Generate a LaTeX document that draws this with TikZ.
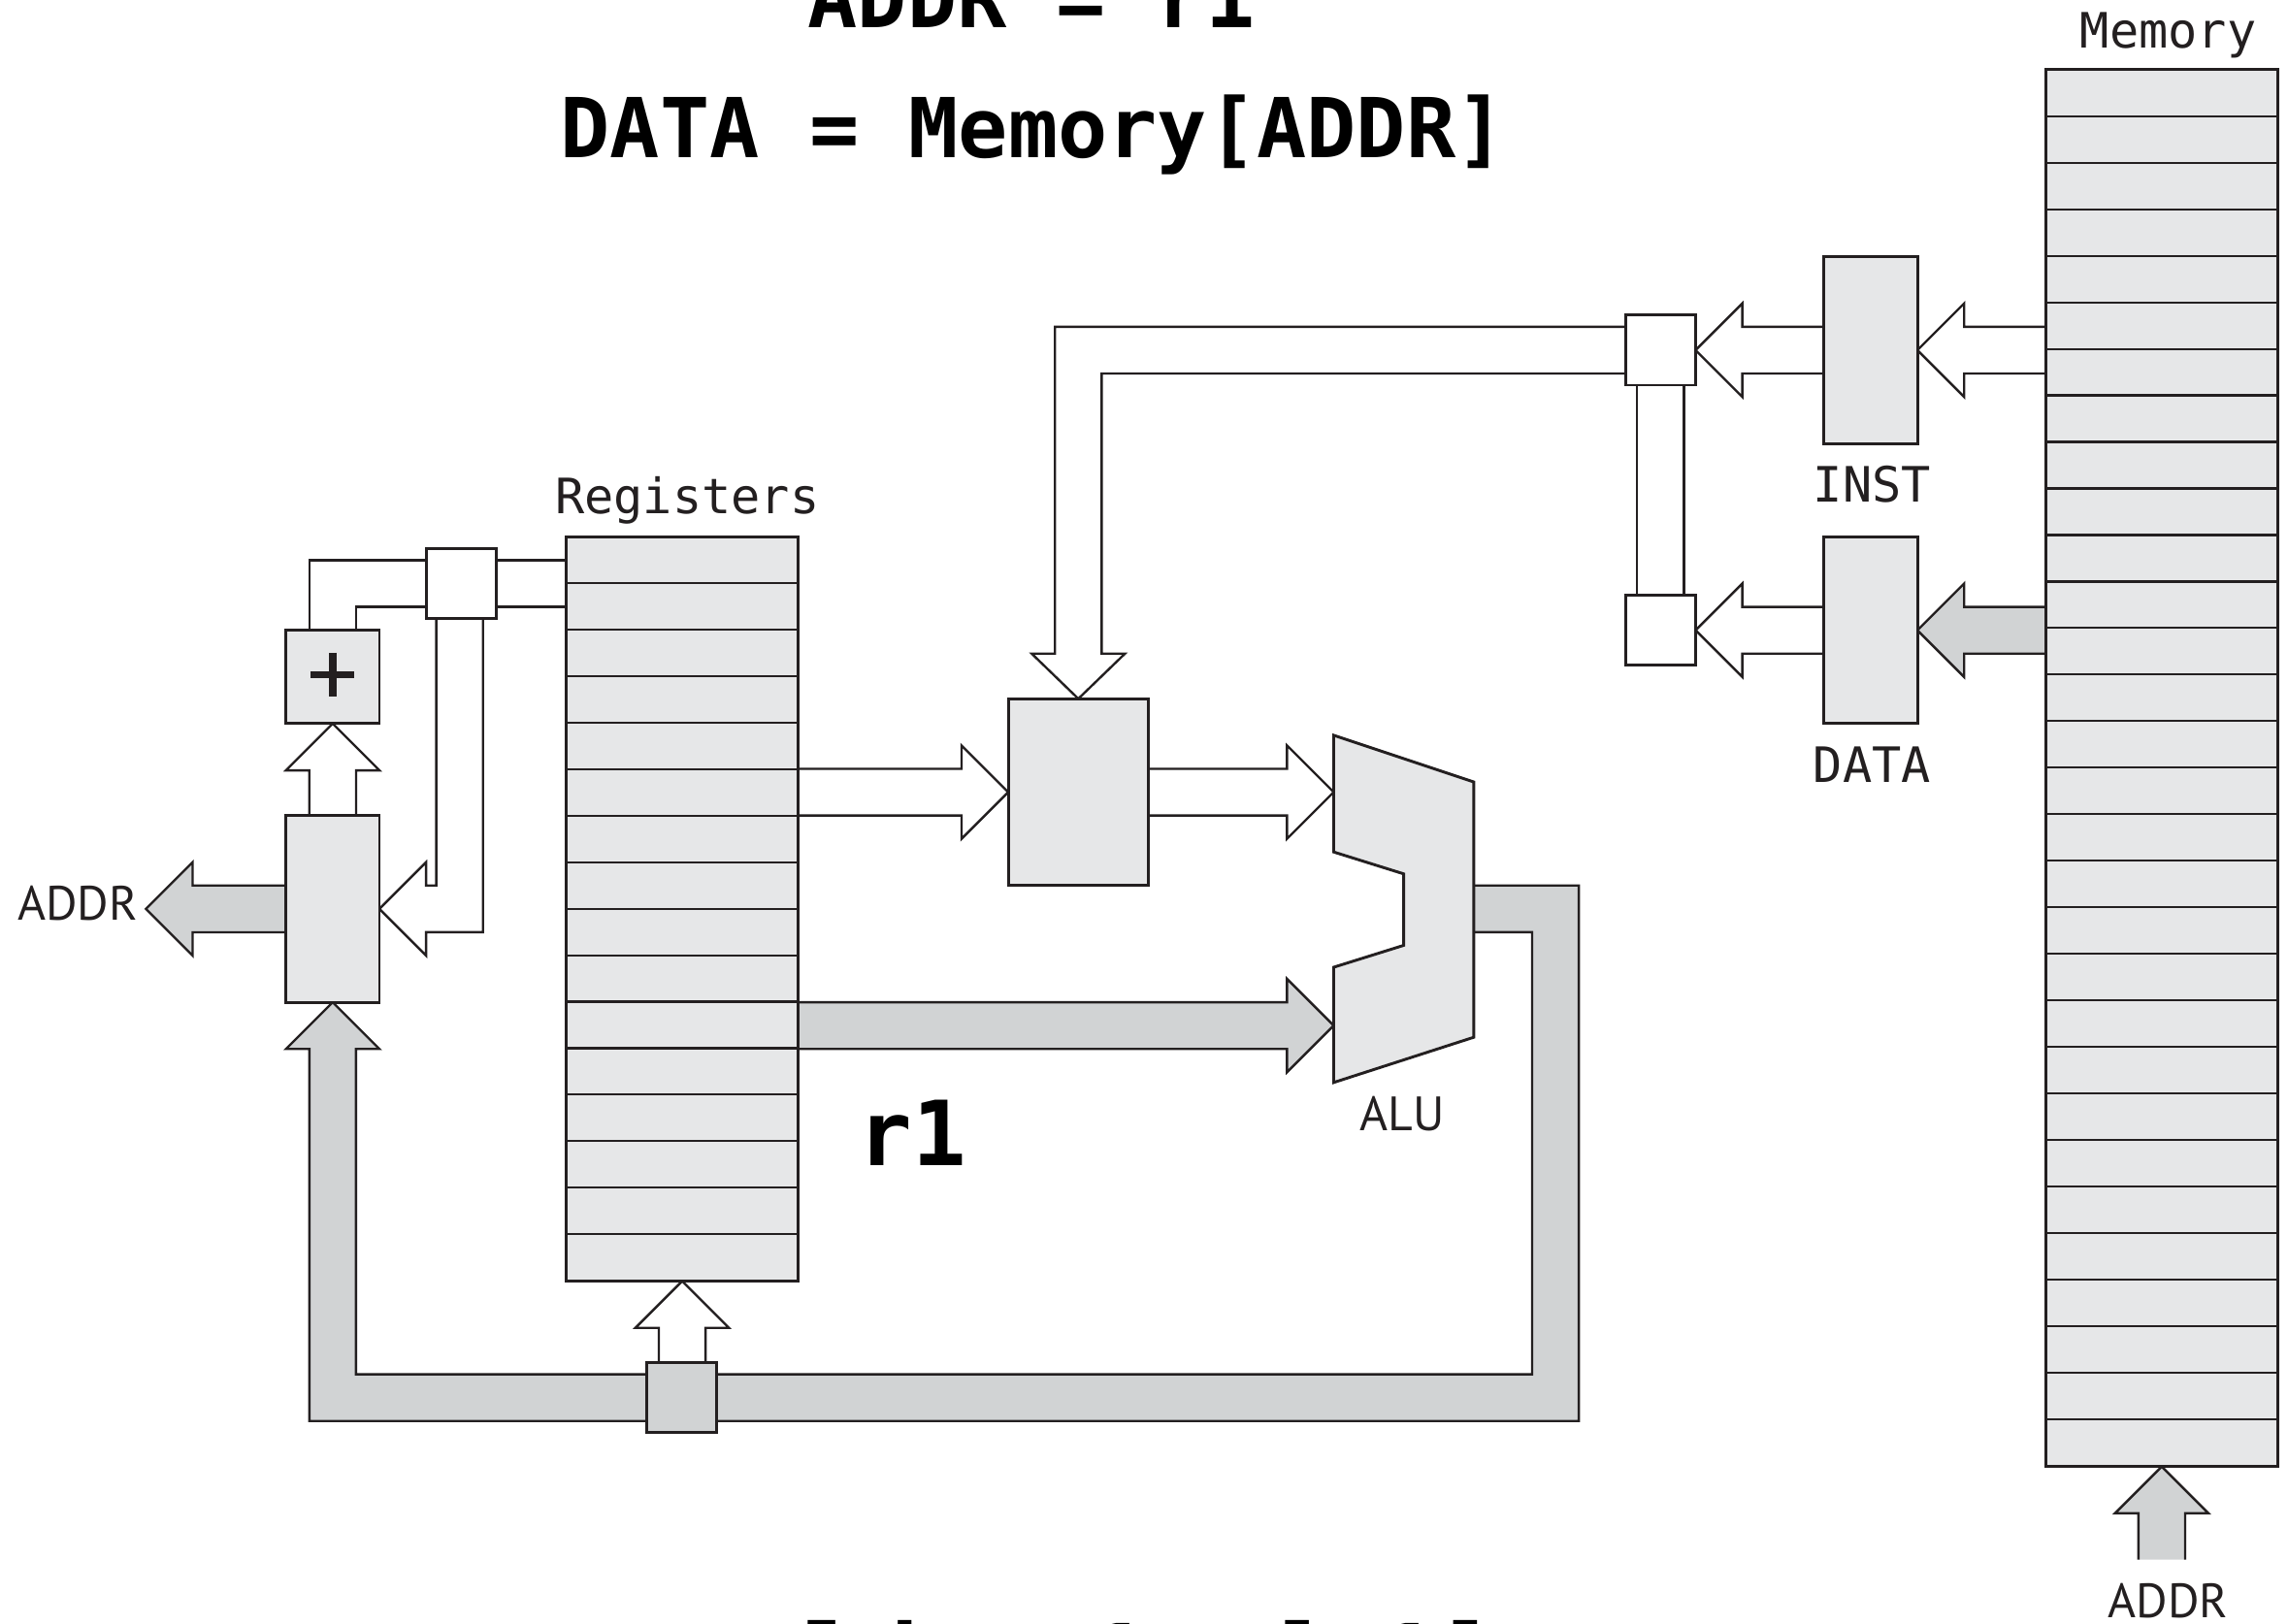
\documentclass[tikz,border=0pt]{standalone}
\usepackage{fontspec}
\setmainfont{PT Sans}
\newfontfamily\monofont{DejaVu Sans Mono}
\usetikzlibrary{calc}
\pgfdeclarelayer{paper}
\pgfdeclarelayer{behind}
\pgfsetlayers{paper,behind,main}
\definecolor{boxfill}{HTML}{E6E7E8}
\definecolor{busfill}{HTML}{D1D3D4}
\definecolor{ink}{HTML}{231F20}
\def\sw{0.16cm}\def\hw{0.32cm}\def\hl{0.32cm}
\newcommand\harr[3]{\draw[blk,fill=#1] let \p1=#2, \p2=#3, \n1={ifthenelse(\x2>\x1,1,-1)} in
  (\x1,\y2+\sw) -- ({\x2-(\n1)*\hl},\y2+\sw) -- ({\x2-(\n1)*\hl},\y2+\hw) -- (\x2,\y2)
  -- ({\x2-(\n1)*\hl},\y2-\hw) -- ({\x2-(\n1)*\hl},\y2-\sw) -- (\x1,\y2-\sw);}
\newcommand\varr[3]{\draw[blk,fill=#1] let \p1=#2, \p2=#3, \n1={ifthenelse(\y2>\y1,1,-1)} in
  (\x2+\sw,\y1) -- (\x2+\sw,{\y2-(\n1)*\hl}) -- (\x2+\hw,{\y2-(\n1)*\hl}) -- (\x2,\y2)
  -- (\x2-\hw,{\y2-(\n1)*\hl}) -- (\x2-\sw,{\y2-(\n1)*\hl}) -- (\x2-\sw,\y1);}
\begin{document}
\begin{tikzpicture}[x=0.01cm,y=-0.01cm,
  gbox/.style={draw=ink,line width=0.55pt,fill=boxfill,inner sep=0pt,outer sep=0pt},
  wbox/.style={gbox,fill=white},
  rowline/.style={draw=ink,line width=0.4pt},
  blk/.style={draw=ink,line width=0.45pt,line join=miter},
  wire/.style={draw=ink,line width=0.45pt},
  monolabel/.style={font=\monofont\fontsize{9.5}{11}\selectfont,inner sep=0pt,text=ink},
  sanslabel/.style={font=\fontsize{9.4}{11}\selectfont,inner sep=0pt,text=ink},
  titletext/.style={font=\monofont\bfseries\fontsize{16.1}{19}\selectfont,inner sep=0pt},
]
\useasboundingbox (0,0) rectangle (1568,1113);
\begin{pgfonlayer}{paper}
\fill[white] (0,0) rectangle (1568,1113);
\end{pgfonlayer}

% titles
\node[titletext,anchor=base] (t1) at (707,19) {ADDR = r1};
\node[titletext,anchor=base] (t2) at (708,108) {DATA = Memory[ADDR]};
\node[font=\monofont\bfseries\fontsize{18.7}{22}\selectfont,inner sep=0pt,anchor=base west] (t3) at (550,1161) {ldr r1, [r1]};

% register file
\node[gbox,minimum width=1.59cm,minimum height=5.10cm] (regs) at (467.5,623) {};
\foreach \i in {1,...,15} \draw[rowline] ($(regs.north west)+(0,\i*31.875)$) -- ++(159,0);
\node[monolabel,anchor=base] (reglabel) at (471,352) {Registers};

% memory
\node[gbox,minimum width=1.59cm,minimum height=9.57cm] (mem) at (1481.5,526.5) {};
\foreach \i in {1,...,29} \draw[rowline] ($(mem.north west)+(0,\i*31.9)$) -- ++(159,0);
\node[monolabel,anchor=base] (memlabel) at (1486,33) {Memory};

% boxes
\node[wbox,minimum size=0.48cm] (sela) at (316,400) {};
\node[gbox,minimum size=0.64cm] (plus) at (228,464) {};
\node[gbox,minimum width=0.64cm,minimum height=1.28cm] (pc) at (228,623) {};
\node[gbox,minimum width=0.96cm,minimum height=1.28cm] (mid) at (739,543) {};
\node[gbox,minimum width=0.64cm,minimum height=1.28cm] (inst) at (1282,240) {};
\node[gbox,minimum width=0.64cm,minimum height=1.28cm] (data) at (1282,432) {};
\node[wbox,minimum size=0.48cm] (selb) at (1138,240) {};
\node[wbox,minimum size=0.48cm] (selc) at (1138,432) {};
\node[monolabel,anchor=base] (instlabel) at (1283,344) {INST};
\node[monolabel,anchor=base] (datalabel) at (1283,536) {DATA};

% plus sign
\draw[ink,line width=1.4pt] ($(plus.center)+(-15,-1.5)$) -- ($(plus.center)+(15,-1.5)$);
\draw[ink,line width=1.4pt] ($(plus.center)+(0,-16.5)$) -- ($(plus.center)+(0,13.5)$);

% ALU
\draw[gbox] (914,504) -- (1010,536) -- (1010,711) -- (914,742) -- (914,663) -- (962,648) -- (962,599) -- (914,584) -- cycle;
\coordinate (aluA) at (914,543);
\coordinate (aluB) at (914,703);
\coordinate (aluout) at (1010,623);
\node[sanslabel,anchor=base] (alulabel) at (961,775) {ALU};

% bottom register-input box (sits on the result bus)
\node[gbox,fill=busfill,minimum size=0.48cm] (regin) at (467,958) {};

\coordinate (addrtip) at (100,623);
\coordinate (maddr) at (1481.5,1069);
\node[sanslabel,anchor=base east] (addrl) at (95,631) {ADDR};
\node[sanslabel,anchor=base] (addrm) at (1486,1109) {ADDR};
\node[font=\monofont\bfseries\fontsize{17.5}{20}\selectfont,inner sep=0pt,anchor=base] (r1) at (625.5,799) {r1};

\begin{pgfonlayer}{behind}
% block arrows
\harr{white}{(regs.east |- mid.west)}{(mid.west)}
\harr{white}{(mid.east)}{(aluA)}
\harr{busfill}{(regs.east |- aluB)}{(aluB)}
\harr{white}{(mem.west |- inst.east)}{(inst.east)}
\harr{white}{(inst.west)}{(selb.east)}
\harr{busfill}{(mem.west |- data.east)}{(data.east)}
\harr{white}{(data.west)}{(selc.east)}
\harr{busfill}{(pc.west)}{(addrtip)}
\varr{white}{(pc.north)}{(plus.south)}
\varr{busfill}{(maddr)}{(mem.south)}

% wires around the upper-left selector
\draw[wire] (sela.east |- 0,384) -- (regs.west |- 0,384);
\draw[wire] (sela.east |- 0,416) -- (regs.west |- 0,416);
\draw[wire] (sela.west |- 0,384) -- (212,384) -- (plus.north -| 212,0);
\draw[wire] (sela.west |- 0,416) -- (244,416) -- (plus.north -| 244,0);
\draw[blk,fill=white] (sela.south -| 299,0) -- (299,607) -- (292,607) -- (292,591) -- (pc.east)
  -- (292,655) -- (292,639) -- (331,639) -- (sela.south -| 331,0);

% bus from INST selector to middle box
\draw[blk,fill=white] (selb.west |- 0,224) -- (723,224) -- (723,448) -- (707,448) -- (mid.north)
  -- (771,448) -- (755,448) -- (755,256) -- (selb.west |- 0,256);
\draw[wire] (selb.south -| 1122,0) -- (selc.north -| 1122,0);
\draw[wire] (selb.south -| 1154,0) -- (selc.north -| 1154,0);

% ALU result bus
\draw[blk,fill=busfill] (aluout |- 0,607) -- (1082,607) -- (1082,974) -- (212,974) -- (212,719)
  -- (196,719) -- (pc.south) -- (260,719) -- (244,719) -- (244,942) -- (1050,942) -- (1050,639)
  -- (aluout |- 0,639);
\varr{white}{(regin.north)}{(regs.south)}
\end{pgfonlayer}
\end{tikzpicture}
\end{document}
